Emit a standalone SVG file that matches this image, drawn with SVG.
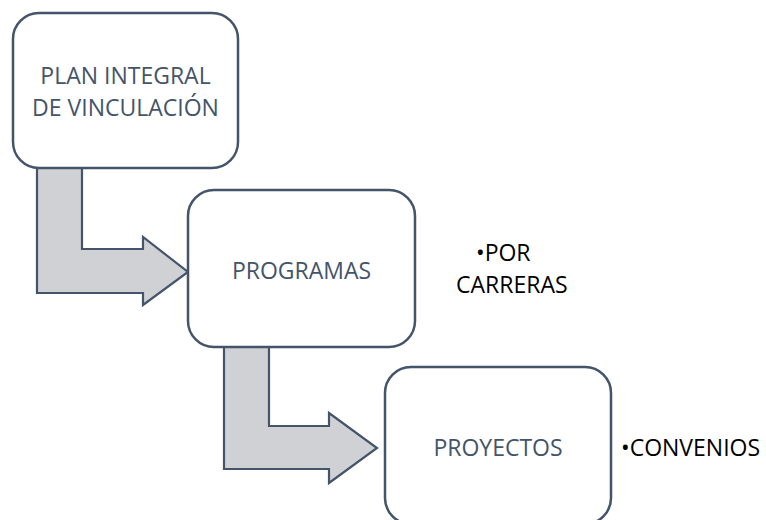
<svg xmlns="http://www.w3.org/2000/svg" width="766" height="520" viewBox="0 0 766 520">
<style>
.box{fill:#fff;stroke:#44546a;stroke-width:2.5}
.arr{fill:#d0d1d5;stroke:#44546a;stroke-width:2.2;stroke-linejoin:miter}
.lbl{font-family:"Open Sans","Liberation Sans",sans-serif;font-size:23px;fill:#44546a;text-anchor:middle}
.side{font-family:"Open Sans","Liberation Sans",sans-serif;font-size:23px;fill:#000}
</style>
<g id="connectors">
<path class="arr" d="M37,168 L37,293 L143,293 L143,305 L188,272 L143,237 L143,249 L82,249 L82,168 Z"/>
<path class="arr" d="M224,347 L224,469 L329,469 L329,483 L377,448 L329,413 L329,426 L269,426 L269,347 Z"/>
</g>
<g id="node-plan">
<rect class="box" x="13" y="13" width="225" height="155" rx="26"/>
<text class="lbl"><tspan x="125.5" y="84">PLAN INTEGRAL</tspan><tspan x="125.5" y="116">DE VINCULACIÓN</tspan></text>
</g>
<g id="node-programas">
<rect class="box" x="188" y="190" width="227" height="157" rx="26"/>
<text class="lbl" x="301.5" y="279">PROGRAMAS</text>
</g>
<g id="node-proyectos">
<rect class="box" x="385" y="367" width="226" height="157" rx="26"/>
<text class="lbl" x="498" y="456">PROYECTOS</text>
</g>
<g id="note-carreras">
<text class="side"><tspan x="476" y="261">•POR</tspan><tspan x="456" y="293">CARRERAS</tspan></text>
</g>
<g id="note-convenios">
<text class="side" x="621" y="456">•CONVENIOS</text>
</g>
</svg>
